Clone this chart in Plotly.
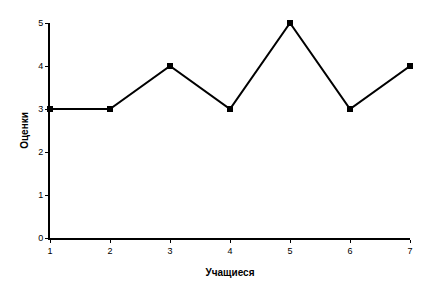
import plotly.graph_objects as go

students = [1, 2, 3, 4, 5, 6, 7]
grades = [3, 3, 4, 3, 5, 3, 4]
x_ticks = [1, 2, 3, 4, 5, 6, 7]
y_ticks = [0, 1, 2, 3, 4, 5]

fig = go.Figure()
fig.add_trace(go.Scatter(
    x=students, y=grades, mode="lines+markers",
    line=dict(color="black", width=2),
    marker=dict(symbol="square", size=6, color="black"),
    cliponaxis=False, showlegend=False,
))
fig.update_layout(
    width=428, height=297,
    margin=dict(l=50, r=18, t=23, b=59),
    paper_bgcolor="white", plot_bgcolor="white",
    font=dict(family="Liberation Sans, Arial, sans-serif", color="black", size=9),
)
fig.update_xaxes(
    range=[1, 7], tickvals=x_ticks, showgrid=False, zeroline=False,
    showline=True, linecolor="black", linewidth=2,
    ticks="outside", ticklen=3, tickcolor="black", tickwidth=1,
    title=dict(text="<b>Учащиеся</b>", font=dict(size=10), standoff=14),
)
fig.update_yaxes(
    range=[0, 5], tickvals=y_ticks, showgrid=False, zeroline=False,
    showline=True, linecolor="black", linewidth=2,
    ticks="outside", ticklen=3, tickcolor="black", tickwidth=1,
    title=dict(text="<b>Оценки</b>", font=dict(size=10), standoff=8),
)
fig.write_html("out.html")
